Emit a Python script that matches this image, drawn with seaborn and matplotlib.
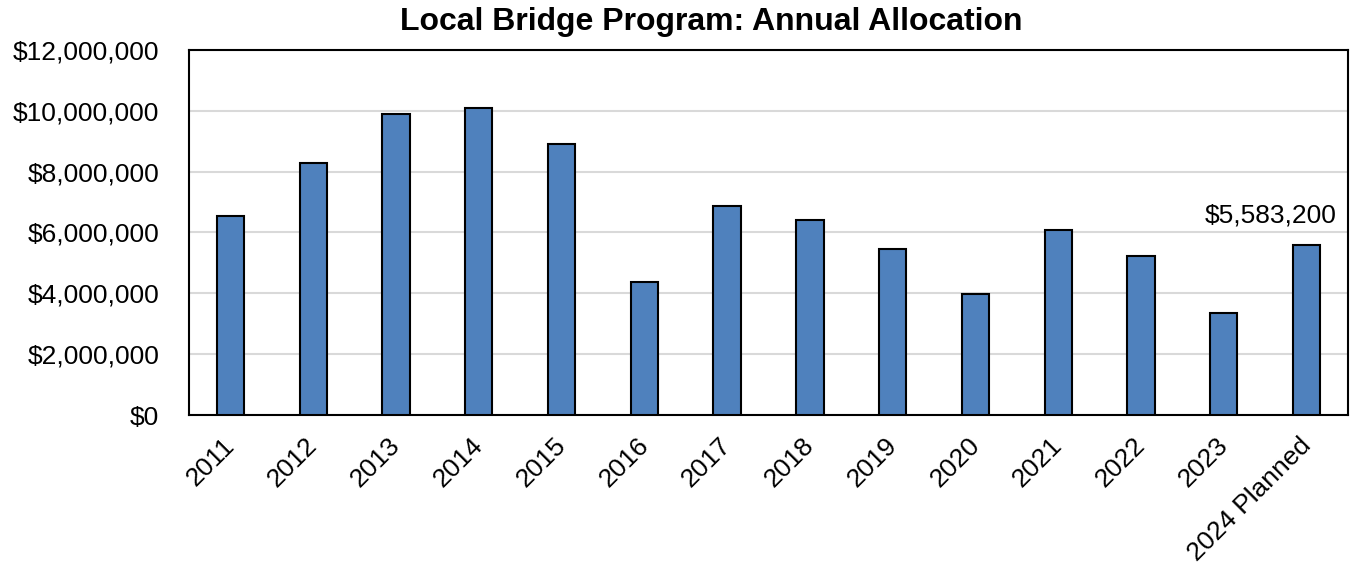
import matplotlib
matplotlib.use("Agg")
import matplotlib.pyplot as plt
import matplotlib.transforms as mtransforms
import seaborn as sns
import pandas as pd
from matplotlib.ticker import FuncFormatter

years = ["2011", "2012", "2013", "2014", "2015", "2016", "2017", "2018",
         "2019", "2020", "2021", "2022", "2023", "2024 Planned"]
allocation = [6550000, 8290000, 9890000, 10080000, 8910000, 4380000, 6860000,
              6420000, 5460000, 3990000, 6090000, 5230000, 3360000, 5583200]
y_ticks = [0, 2000000, 4000000, 6000000, 8000000, 10000000, 12000000]

df = pd.DataFrame({"year": years, "allocation": allocation})

sns.set_theme(style="white")
plt.rcParams["font.family"] = ["Liberation Sans", "DejaVu Sans"]
plt.rcParams["text.color"] = "black"

fig = plt.figure(figsize=(13.5, 5.67), dpi=100)
ax = fig.add_axes([0.14, 0.268, 0.8585, 0.644])

sns.barplot(data=df, x="year", y="allocation", color="#4F81BD", saturation=1,
            width=0.33, edgecolor="black", linewidth=1.5, ax=ax, zorder=3)

ax.set_ylim(0, 12000000)
ax.set_yticks(y_ticks)
ax.yaxis.set_major_formatter(FuncFormatter(lambda v, _: f"${v:,.0f}"))
ax.grid(axis="y", color="#d9d9d9", linewidth=1.5, zorder=0)
ax.set_axisbelow(True)
ax.set_xlim(-0.5, len(years) - 0.5)

for s in ax.spines.values():
    s.set_color("black")
    s.set_linewidth(1.5)
    s.set_visible(True)

ax.tick_params(axis="both", length=0, labelsize=19, colors="black")
ax.tick_params(axis="y", pad=21.5)
ax.tick_params(axis="x", pad=13)
shift = mtransforms.ScaledTranslation(-0.08, 0, fig.dpi_scale_trans)
for lbl in ax.get_xticklabels():
    lbl.set_rotation(45)
    lbl.set_ha("right")
    lbl.set_rotation_mode("anchor")
    lbl.set_transform(lbl.get_transform() + shift)
ax.set_xlabel("")
ax.set_ylabel("")

fig.text(0.527, 0.961, "Local Bridge Program: Annual Allocation",
         fontsize=23, fontweight="bold", ha="center", va="center",
         color="black")

last = len(years) - 1
ax.annotate(f"${allocation[last]:,.0f}", xy=(last, allocation[last]),
            xytext=(-26, 21), textcoords="offset points",
            ha="center", va="center", fontsize=19, color="black")

fig.savefig("out.png", dpi=100)
